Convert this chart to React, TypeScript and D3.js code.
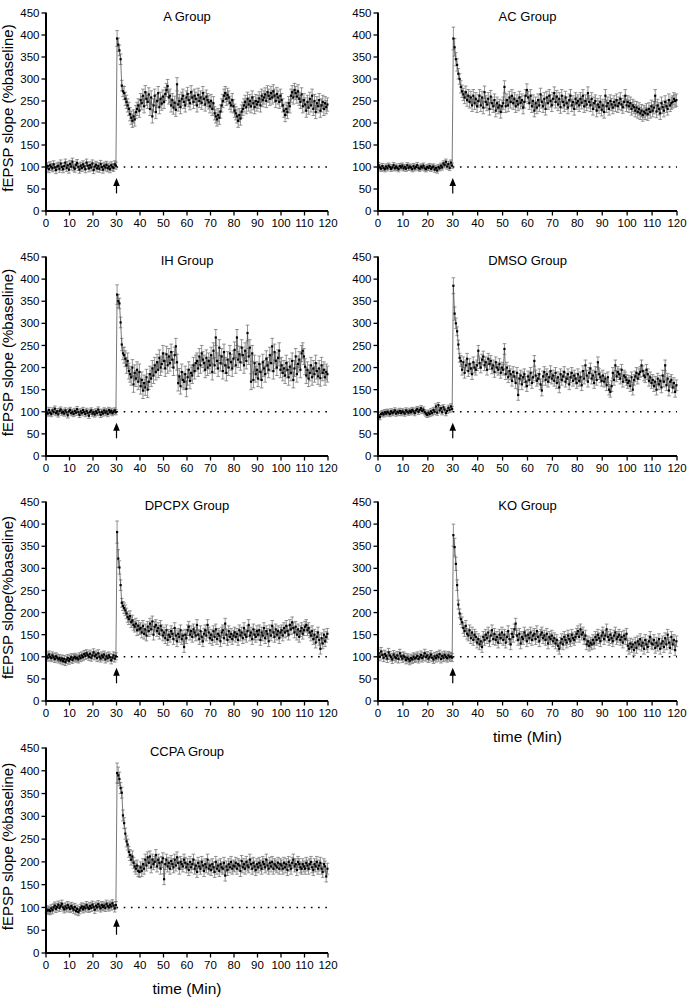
import React from "react";
import * as d3 from "d3";

// sampling: one point every half minute, baseline 0-30 min, post-HFS 30-120 min
const sampleStep = 0.5;
const xTicks = [0, 10, 20, 30, 40, 50, 60, 70, 80, 90, 100, 110, 120];
const yTicks = [0, 50, 100, 150, 200, 250, 300, 350, 400, 450];

const aBase = [
  98, 102, 95, 104, 100, 97, 106, 99, 93, 101, 103, 96, 108, 100, 95, 102, 110, 98, 104, 94, 107, 101, 112, 99, 96, 105, 109, 100, 94, 103,
  98, 106, 101, 95, 110, 103, 97, 104, 99, 108, 93, 101, 105, 97, 102, 96, 107, 100, 94, 103, 99, 105, 97, 101, 95, 104, 100, 98, 106, 103,
];
const aPost = [
  392, 378, 365, 345, 285, 272, 268, 255, 248, 240, 232, 220, 212, 205, 215, 208, 225, 232, 240, 228,
  252, 245, 262, 238, 270, 255, 248, 265, 232, 258, 215, 240, 262, 225, 250, 268, 236, 255, 244, 260,
  248, 266, 275, 284, 258, 262, 240, 252, 235, 246, 230, 288, 242, 250, 236, 255, 262, 248, 240, 258,
  266, 252, 245, 270, 258, 248, 262, 255, 240, 264, 250, 258, 246, 268, 255, 242, 260, 252, 247, 238,
  250, 232, 245, 222, 215, 208, 218, 212, 226, 240, 250, 262, 268, 255, 264, 258, 246, 240, 252, 238,
  228, 222, 215, 205, 218, 210, 226, 232, 240, 248, 236, 255, 242, 250, 238, 258, 245, 236, 250, 242,
  248, 256, 240, 262, 252, 258, 265, 250, 270, 262, 255, 268, 258, 272, 262, 250, 266, 258, 248, 262,
  252, 240, 228, 218, 232, 225, 245, 238, 262, 270, 258, 275, 268, 260, 272, 255, 248, 265, 238, 252,
  242, 228, 248, 235, 255, 240, 262, 232, 250, 225, 245, 238, 252, 228, 240, 248, 232, 245, 236, 242,
];

const acBase = [
  104, 99, 96, 102, 98, 95, 101, 97, 103, 100, 96, 99, 104, 97, 101, 98, 95, 102, 99, 103, 97, 100, 96, 104, 98, 101, 99, 95, 102, 97,
  100, 104, 98, 96, 101, 99, 103, 97, 95, 100, 98, 102, 96, 99, 101, 94, 98, 92, 100, 97, 103, 99, 108, 104, 112, 101, 107, 98, 110, 103,
];
const acPost = [
  392, 372, 345, 332, 312, 300, 282, 272, 265, 258, 270, 252, 262, 248, 258, 240, 262, 245, 255, 238,
  250, 262, 240, 258, 235, 270, 248, 242, 255, 232, 260, 245, 238, 252, 228, 245, 235, 240, 225, 238,
  245, 282, 238, 252, 240, 258, 248, 262, 245, 255, 238, 250, 242, 258, 246, 252, 235, 248, 262, 275,
  258, 245, 262, 238, 250, 228, 245, 235, 252, 240, 265, 248, 238, 255, 232, 258, 245, 262, 250, 240,
  255, 268, 248, 260, 242, 255, 236, 262, 248, 240, 258, 245, 235, 252, 262, 240, 248, 232, 255, 245,
  250, 240, 255, 246, 262, 238, 250, 242, 268, 248, 240, 255, 232, 245, 250, 228, 242, 236, 248, 230,
  240, 225, 262, 238, 245, 232, 250, 242, 235, 248, 240, 252, 238, 245, 255, 242, 236, 248, 262, 240,
  248, 238, 245, 232, 240, 236, 228, 235, 225, 232, 222, 228, 218, 226, 222, 230, 220, 232, 225, 238,
  228, 235, 262, 226, 240, 232, 222, 245, 236, 228, 248, 238, 232, 252, 240, 245, 248, 255, 250, 252,
];

const ihBase = [
  100, 96, 104, 98, 95, 103, 99, 107, 97, 101, 94, 102, 105, 98, 100, 96, 103, 99, 92, 101, 104, 97, 100, 95, 102, 98, 106, 99, 93, 101,
  97, 104, 99, 95, 102, 98, 91, 100, 103, 96, 99, 94, 101, 97, 105, 99, 93, 100, 96, 103, 98, 101, 95, 104, 99, 102, 97, 100, 103, 99,
];
const ihPost = [
  365, 350, 345, 302, 252, 232, 228, 220, 205, 215, 192, 185, 178, 200, 162, 188, 175, 195, 168, 190,
  158, 172, 148, 165, 155, 178, 150, 168, 185, 175, 198, 182, 205, 190, 212, 195, 222, 200, 208, 232,
  215, 198, 230, 205, 225, 210, 235, 218, 200, 228, 248, 212, 165, 180, 158, 190, 172, 168, 185, 152,
  178, 195, 170, 188, 182, 205, 192, 210, 215, 198, 225, 205, 232, 218, 210, 195, 222, 200, 215, 205,
  228, 190, 238, 205, 268, 215, 198, 245, 210, 225, 192, 235, 205, 188, 218, 200, 232, 212, 198, 220,
  240, 205, 268, 218, 230, 212, 245, 228, 205, 238, 215, 278, 225, 245, 168, 232, 172, 210, 185, 195,
  175, 208, 190, 172, 212, 198, 185, 220, 205, 195, 228, 210, 248, 192, 235, 215, 200, 222, 238, 195,
  205, 188, 198, 182, 210, 195, 178, 202, 188, 215, 172, 198, 225, 185, 208, 218, 195, 232, 238, 225,
  202, 182, 195, 175, 188, 205, 178, 198, 185, 210, 192, 180, 198, 176, 205, 188, 195, 178, 190, 185,
];

const dmsoBase = [
  92, 88, 95, 97, 94, 99, 96, 100, 98, 95, 101, 97, 99, 103, 96, 100, 98, 102, 97, 101, 99, 96, 103, 100, 98, 102, 99, 104, 101, 97,
  103, 106, 100, 104, 108, 102, 105, 99, 96, 93, 98, 95, 101, 97, 104, 100, 112, 98, 115, 103, 108, 99, 110, 105, 97, 102, 109, 104, 112, 106,
];
const dmsoPost = [
  385, 322, 300, 282, 252, 222, 215, 195, 212, 188, 205, 220, 192, 208, 198, 185, 212, 200, 195, 205,
  238, 210, 200, 218, 225, 205, 212, 195, 220, 208, 215, 198, 205, 190, 212, 200, 195, 208, 188, 200,
  195, 242, 185, 200, 178, 192, 185, 170, 190, 180, 165, 188, 138, 175, 182, 162, 178, 185, 168, 158,
  180, 172, 188, 165, 178, 215, 182, 170, 175, 185, 162, 148, 180, 190, 172, 185, 168, 178, 192, 175,
  182, 170, 188, 165, 178, 155, 185, 172, 180, 190, 168, 175, 185, 162, 178, 188, 170, 182, 175, 165,
  185, 170, 178, 160, 192, 175, 205, 182, 168, 188, 198, 175, 182, 165, 190, 172, 212, 185, 178, 170,
  182, 168, 175, 160, 178, 150, 145, 158, 188, 172, 205, 180, 190, 185, 175, 195, 168, 182, 178, 172,
  165, 170, 158, 178, 150, 172, 180, 188, 175, 185, 190, 205, 192, 182, 178, 195, 185, 170, 178, 165,
  172, 158, 168, 150, 175, 162, 170, 155, 182, 168, 205, 160, 175, 148, 168, 172, 155, 165, 145, 160,
];

const dpcpxBase = [
  102, 98, 105, 100, 97, 103, 99, 95, 101, 98, 94, 97, 92, 96, 90, 95, 88, 93, 97, 91, 95, 99, 93, 97, 100, 96, 98, 94, 101, 97,
  103, 99, 106, 102, 108, 104, 100, 107, 98, 103, 110, 101, 105, 97, 108, 100, 96, 103, 99, 105, 94, 101, 97, 103, 99, 92, 98, 103, 96, 101,
];
const dpcpxPost = [
  382, 322, 302, 262, 222, 215, 210, 205, 198, 190, 185, 192, 178, 182, 172, 168, 175, 160, 170, 162,
  165, 155, 170, 152, 162, 148, 168, 158, 175, 162, 180, 150, 168, 172, 158, 165, 152, 170, 160, 148,
  155, 142, 160, 138, 150, 145, 158, 152, 140, 165, 148, 135, 152, 145, 160, 140, 148, 122, 150, 142,
  160, 168, 150, 158, 145, 162, 155, 148, 172, 150, 140, 158, 145, 135, 152, 160, 148, 172, 155, 142,
  150, 138, 158, 145, 162, 140, 152, 148, 135, 155, 160, 142, 175, 150, 138, 158, 145, 152, 140, 148,
  155, 145, 152, 138, 160, 148, 155, 142, 165, 150, 145, 158, 172, 148, 155, 140, 162, 150, 145, 158,
  150, 160, 138, 155, 148, 165, 142, 158, 152, 135, 160, 148, 170, 155, 145, 162, 150, 158, 142, 155,
  160, 148, 165, 155, 170, 158, 150, 172, 162, 178, 165, 155, 168, 150, 162, 145, 158, 165, 152, 160,
  168, 172, 160, 165, 155, 148, 158, 140, 150, 132, 145, 155, 138, 118, 142, 130, 150, 135, 145, 152,
];

const koBase = [
  108, 100, 112, 104, 98, 106, 102, 96, 110, 103, 99, 94, 105, 100, 97, 103, 95, 108, 101, 96, 102, 99, 93, 98, 95, 91, 97, 94, 100, 96,
  98, 102, 95, 99, 104, 97, 101, 108, 99, 103, 96, 100, 105, 98, 94, 101, 97, 103, 99, 106, 95, 102, 98, 104, 100, 97, 103, 99, 101, 98,
];
const koPost = [
  375, 348, 310, 262, 218, 198, 185, 178, 165, 158, 170, 152, 148, 160, 142, 155, 138, 150, 145, 132,
  140, 128, 135, 122, 145, 138, 150, 142, 155, 135, 148, 160, 140, 152, 138, 145, 132, 150, 142, 155,
  138, 150, 132, 145, 158, 140, 128, 152, 145, 162, 175, 148, 138, 152, 130, 145, 140, 155, 148, 135,
  150, 142, 155, 138, 148, 152, 140, 158, 145, 135, 150, 155, 142, 148, 138, 152, 130, 145, 140, 148,
  135, 142, 130, 138, 125, 118, 132, 140, 128, 145, 138, 132, 148, 140, 135, 150, 142, 138, 145, 152,
  158, 145, 162, 150, 155, 140, 148, 128, 135, 125, 132, 128, 138, 130, 145, 138, 150, 142, 135, 148,
  155, 140, 148, 162, 145, 138, 150, 142, 135, 148, 155, 140, 145, 150, 138, 145, 132, 148, 140, 152,
  125, 118, 130, 122, 128, 115, 132, 120, 135, 128, 140, 125, 132, 118, 138, 128, 122, 135, 145, 130,
  128, 138, 120, 132, 125, 140, 118, 130, 135, 122, 142, 128, 150, 132, 120, 145, 128, 138, 115, 135,
];

const ccpaBase = [
  96, 93, 95, 92, 98, 94, 100, 104, 97, 101, 106, 99, 103, 108, 100, 96, 102, 98, 105, 100, 97, 103, 99, 95, 101, 92, 97, 90, 94, 99,
  102, 96, 101, 98, 105, 100, 97, 103, 99, 106, 101, 95, 104, 100, 107, 102, 98, 105, 101, 104, 99, 108, 103, 100, 106, 102, 109, 104, 98, 105,
];
const ccpaPost = [
  395, 390, 382, 362, 352, 302, 285, 262, 245, 238, 222, 215, 205, 212, 198, 190, 185, 192, 180, 178,
  188, 180, 195, 185, 205, 192, 210, 198, 212, 188, 205, 195, 200, 215, 190, 205, 198, 185, 200, 208,
  162, 195, 205, 190, 198, 185, 202, 195, 188, 205, 192, 210, 198, 185, 200, 195, 190, 205, 198, 188,
  195, 182, 200, 188, 195, 205, 185, 192, 178, 198, 190, 185, 200, 192, 180, 195, 188, 205, 185, 192,
  182, 195, 188, 178, 200, 185, 192, 180, 195, 188, 185, 198, 170, 190, 182, 195, 188, 200, 185, 192,
  190, 198, 185, 195, 192, 180, 202, 188, 195, 185, 200, 192, 188, 205, 195, 185, 198, 190, 182, 195,
  188, 198, 192, 185, 200, 195, 188, 205, 192, 185, 198, 190, 200, 185, 195, 192, 188, 198, 185, 195,
  192, 185, 198, 188, 195, 182, 200, 192, 185, 198, 205, 190, 195, 182, 200, 195, 188, 185, 195, 190,
  185, 198, 192, 185, 195, 200, 188, 182, 195, 190, 200, 185, 192, 198, 185, 178, 195, 190, 168, 185,
];

// SEM: baseline, first post-HFS points, rest
const semBase = [8, 6, 6, 6, 8, 9, 8];
const semPeak = [
  [18, 15, 12, 12, 12, 12],
  [26, 20, 15, 14, 12, 12],
  [22, 15, 12, 12, 14, 14],
  [18, 15, 12, 10, 10, 10],
  [25, 20, 15, 12, 10, 10],
  [25, 20, 15, 12, 10, 10],
  [22, 18, 15, 12, 12, 12],
];
const semPost = [15, 14, 18, 12, 12, 12, 12];

const groupTitles = ["A Group", "AC Group", "IH Group", "DMSO Group", "DPCPX Group", "KO Group", "CCPA Group"];
const groupBase = [aBase, acBase, ihBase, dmsoBase, dpcpxBase, koBase, ccpaBase];
const groupPost = [aPost, acPost, ihPost, dmsoPost, dpcpxPost, koPost, ccpaPost];
const yLabels = [
  "fEPSP slope (%baseline)", null, "fEPSP slope (%baseline)", null,
  "fEPSP slope(%baseline)", null, "fEPSP slope (%baseline)",
];
const xLabels = [null, null, null, null, null, "time (Min)", "time (Min)"];

const FONT = "'Liberation Sans', Arial, Helvetica, sans-serif";
const W = 695;
const H = 1000;

// panel frames on the page
const colX = [
  [46, 328],
  [378, 677],
];
const rowY = [
  [13, 211],
  [257, 456],
  [502, 701],
  [748, 953],
];

interface Pt {
  t: number;
  v: number;
  e: number;
}

const Panel: React.FC<{ idx: number }> = ({ idx }) => {
  const col = idx % 2;
  const row = Math.floor(idx / 2);
  const [x0, x1] = colX[col];
  const [y0, y1] = rowY[row];

  const x = d3.scaleLinear().domain([0, 120]).range([x0, x1]);
  const y = d3.scaleLinear().domain([0, 450]).range([y1, y0]);

  const pts: Pt[] = [
    ...groupBase[idx].map((v, i) => ({ t: sampleStep / 2 + i * sampleStep, v, e: semBase[idx] })),
    ...groupPost[idx].map((v, i) => ({
      t: 30 + sampleStep / 2 + i * sampleStep,
      v,
      e: i < semPeak[idx].length ? semPeak[idx][i] : semPost[idx],
    })),
  ];

  const line = d3
    .line<Pt>()
    .x((d) => x(d.t))
    .y((d) => y(d.v));

  const cx = (x0 + x1) / 2;
  const arrowTip = y(75);
  const arrowTail = y(40);

  return (
    <g>
      {/* error bars */}
      <g stroke="#777" strokeWidth={0.8}>
        {pts.map((d, i) => (
          <g key={i}>
            <line x1={x(d.t)} x2={x(d.t)} y1={y(d.v - d.e)} y2={y(d.v + d.e)} />
            <line x1={x(d.t) - 1.8} x2={x(d.t) + 1.8} y1={y(d.v + d.e)} y2={y(d.v + d.e)} />
            <line x1={x(d.t) - 1.8} x2={x(d.t) + 1.8} y1={y(d.v - d.e)} y2={y(d.v - d.e)} />
          </g>
        ))}
      </g>
      <path d={line(pts) || ""} fill="none" stroke="#555" strokeWidth={0.8} />
      <g fill="#000">
        {pts.map((d, i) => (
          <rect key={i} x={x(d.t) - 1.1} y={y(d.v) - 1.1} width={2.2} height={2.2} />
        ))}
      </g>

      {/* baseline reference */}
      <line
        x1={x(30)}
        x2={x(120)}
        y1={y(100)}
        y2={y(100)}
        stroke="#000"
        strokeWidth={1.6}
        strokeDasharray="1.6,5.6"
      />

      {/* HFS arrow */}
      <line x1={x(30)} x2={x(30)} y1={arrowTail} y2={arrowTip + 5} stroke="#000" strokeWidth={1.2} />
      <path
        d={`M${x(30)},${arrowTip} L${x(30) - 3.3},${arrowTip + 8} L${x(30) + 3.3},${arrowTip + 8} Z`}
        fill="#000"
      />

      {/* axes */}
      <line x1={x0} x2={x0} y1={y0 - 0.5} y2={y1} stroke="#000" strokeWidth={2} />
      <line x1={x0 - 1} x2={x1} y1={y1} y2={y1} stroke="#000" strokeWidth={2} />
      {yTicks.map((t) => (
        <g key={"y" + t}>
          <line x1={x0 - 4.5} x2={x0} y1={y(t)} y2={y(t)} stroke="#000" strokeWidth={1.3} />
          <text
            x={x0 - 6.5}
            y={y(t)}
            dy="0.36em"
            textAnchor="end"
            fontSize={11.5}
            fontFamily={FONT}
            fill="#000"
          >
            {t}
          </text>
        </g>
      ))}
      {xTicks.map((t) => (
        <g key={"x" + t}>
          <line x1={x(t)} x2={x(t)} y1={y1} y2={y1 + 4.5} stroke="#000" strokeWidth={1.3} />
          <text
            x={x(t)}
            y={y1 + 16}
            textAnchor="middle"
            fontSize={11.5}
            fontFamily={FONT}
            fill="#000"
          >
            {t}
          </text>
        </g>
      ))}

      <text x={cx} y={y0 + 7.5} textAnchor="middle" fontSize={13} fontFamily={FONT} fill="#000">
        {groupTitles[idx]}
      </text>

      {yLabels[idx] && (
        <text
          transform={`translate(13,${(y0 + y1) / 2 - 4}) rotate(-90)`}
          textAnchor="middle"
          fontSize={15}
          fontFamily={FONT}
          fill="#000"
        >
          {yLabels[idx]}
        </text>
      )}
      {xLabels[idx] && (
        <text x={cx} y={y1 + 41} textAnchor="middle" fontSize={15.5} fontFamily={FONT} fill="#000">
          {xLabels[idx]}
        </text>
      )}
    </g>
  );
};

export default function App() {
  return (
    <svg
      width={W}
      height={H}
      viewBox={`0 0 ${W} ${H}`}
      style={{ position: "absolute", left: 0, top: 0, background: "#fff" }}
    >
      <rect width={W} height={H} fill="#fff" />
      {groupTitles.map((_, i) => (
        <Panel key={i} idx={i} />
      ))}
    </svg>
  );
}
